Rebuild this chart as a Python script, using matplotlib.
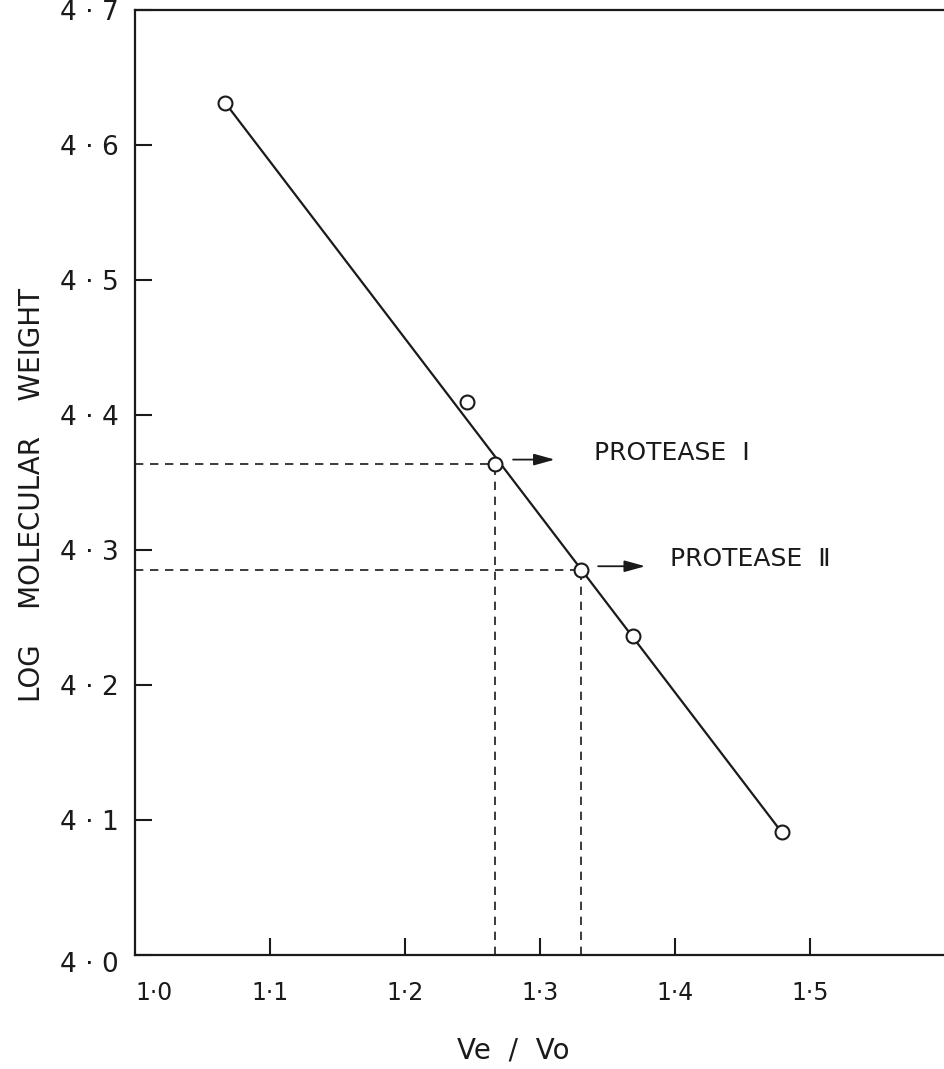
import matplotlib.pyplot as plt
import numpy as np

# standards (Ve/Vo, log MW)
ve_vo = [1.067, 1.246, 1.267, 1.330, 1.369, 1.479]
log_mw = [4.631, 4.410, 4.364, 4.285, 4.236, 4.091]

# calibration line end points
line_x = [1.067, 1.479]
line_y = [4.631, 4.091]

# the two proteases
prot_names = ["PROTEASE  Ⅰ", "PROTEASE  Ⅱ"]
prot_x = [1.267, 1.330]
prot_y = [4.364, 4.285]

xticks = [1.0, 1.1, 1.2, 1.3, 1.4, 1.5]
xtick_labels = ["1·0", "1·1", "1·2", "1·3", "1·4", "1·5"]
yticks = [4.0, 4.1, 4.2, 4.3, 4.4, 4.5, 4.6, 4.7]
ytick_labels = ["4 · 0", "4 · 1", "4 · 2", "4 · 3", "4 · 4", "4 · 5",
                "4 · 6", "4 · 7"]

plt.rcParams['font.family'] = ['DejaVu Sans']
ink = "#1a1a1a"

fig = plt.figure(figsize=(9.45, 10.69), dpi=100)
ax = fig.add_axes([0.1429, 0.1066, 0.8571, 0.884])

ax.plot(line_x, line_y, c=ink, lw=1.6, zorder=2)
ax.plot(ve_vo, log_mw, "o", ms=10, mfc="white", mec=ink, mew=1.5, zorder=3)

for px, py in zip(prot_x, prot_y):
    ax.plot([1.0, px], [py, py], ls=(0, (5, 4)), c=ink, lw=1.2, zorder=1)
    ax.plot([px, px], [4.0, py], ls=(0, (5, 4)), c=ink, lw=1.2, zorder=1)

# arrows + labels
arrow_len = [0.035, 0.039]
text_x = [1.340, 1.396]
for name, px, py, al, tx in zip(prot_names, prot_x, prot_y, arrow_len, text_x):
    ax.annotate("", xy=(px + 0.011 + al, py + 0.003),
                xytext=(px + 0.011, py + 0.003),
                arrowprops=dict(arrowstyle="-|>,head_length=0.9,head_width=0.25",
                                color=ink, lw=1.3, mutation_scale=14))
    ax.text(tx, py + 0.008, name, fontsize=18, va="center", ha="left",
            color=ink)

ax.set_xlim(1.0, 1.6)
ax.set_ylim(4.0, 4.7)
ax.set_xticks(xticks[1:])
ax.set_xticklabels(xtick_labels[1:])
ax.set_yticks(yticks)
ax.set_yticklabels([""] + ytick_labels[1:])
# corner labels are drawn a bit offset, as in the original
ax.annotate(xtick_labels[0], xy=(xticks[0], 0), xycoords=("data", "axes fraction"),
            xytext=(0, -19), textcoords="offset points", va="top", ha="left",
            fontsize=17, color=ink)
ax.annotate(ytick_labels[0], xy=(0, yticks[0]), xycoords=("axes fraction", "data"),
            xytext=(-12, -7), textcoords="offset points", va="center",
            ha="right", fontsize=19, color=ink)
ax.tick_params(axis="x", direction="in", length=12, width=1.5, pad=19,
               labelsize=17, colors=ink)
ax.tick_params(axis="y", direction="in", length=12, width=1.5, pad=12,
               labelsize=19, colors=ink)

ax.spines["right"].set_visible(False)
for s in ["left", "bottom", "top"]:
    ax.spines[s].set_linewidth(1.6)
    ax.spines[s].set_color(ink)

ax.set_xlabel("Ve  /  Vo", fontsize=20, color=ink)
ax.xaxis.set_label_coords((513 - 135) / 810, -0.086)
ax.set_ylabel("LOG    MOLECULAR    WEIGHT", fontsize=20, color=ink)
ax.yaxis.set_label_coords(-0.11, 0.487)

plt.savefig("out.png", dpi=100)
